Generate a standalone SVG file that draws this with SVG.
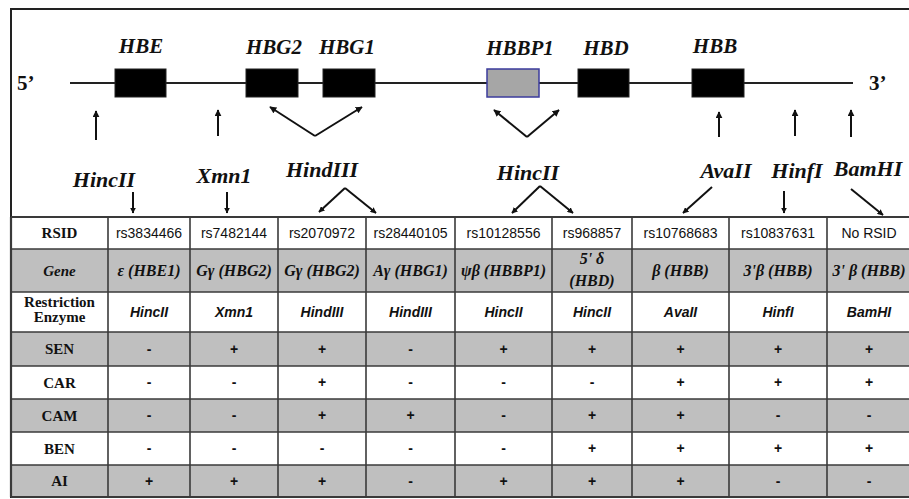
<svg xmlns="http://www.w3.org/2000/svg" width="909" height="499" viewBox="0 0 909 499">
  <defs>
    <marker id="head" viewBox="0 0 10 10" refX="9" refY="5" markerWidth="7" markerHeight="7" markerUnits="userSpaceOnUse" orient="auto">
      <path d="M0,0 L10,5 L0,10 Z" fill="#111"/>
    </marker>
    <marker id="headS" viewBox="0 0 10 10" refX="9" refY="5" markerWidth="6" markerHeight="6" markerUnits="userSpaceOnUse" orient="auto">
      <path d="M0,0 L10,5 L0,10 Z" fill="#111"/>
    </marker>
  </defs>
  <style>
    .gene { fill: #000; stroke: #222; stroke-width: 1; }
    .pseudo { fill: #a6a6a6; stroke: #3b3b9c; stroke-width: 1.5; }
    .glabel { font-family: "Liberation Serif", serif; font-weight: bold; font-style: italic; font-size: 21px; fill: #111; text-anchor: middle; }
    .elabel { font-family: "Liberation Serif", serif; font-weight: bold; font-style: italic; font-size: 22px; fill: #111; text-anchor: middle; }
    .end { font-family: "Liberation Serif", serif; font-weight: bold; font-size: 21px; fill: #111; }
    .arr { stroke: #111; stroke-width: 2; fill: none; marker-end: url(#head); }
    .arrs { stroke: #111; stroke-width: 2; fill: none; marker-end: url(#headS); }
    .grid { stroke: #3a3a3a; stroke-width: 1.6; fill: none; }
    .shade { fill: #bfbfbf; }
    .hdr { font-family: "Liberation Serif", serif; font-weight: bold; font-size: 15px; fill: #111; text-anchor: middle; }
    .hdri { font-family: "Liberation Serif", serif; font-weight: bold; font-style: italic; font-size: 15px; fill: #111; text-anchor: middle; }
    .rs { font-family: "Liberation Sans", sans-serif; font-size: 14px; fill: #111; text-anchor: middle; }
    .gn { font-family: "Liberation Serif", serif; font-weight: bold; font-style: italic; font-size: 16px; fill: #111; text-anchor: middle; }
    .enz { font-family: "Liberation Sans", sans-serif; font-weight: bold; font-style: italic; font-size: 14px; fill: #111; text-anchor: middle; }
    .val { font-family: "Liberation Sans", sans-serif; font-weight: bold; font-size: 14px; fill: #111; text-anchor: middle; }
  </style>

  <!-- frame -->
  <rect x="11" y="9" width="902" height="488" fill="#fff" stroke="#222" stroke-width="2"/>

  <!-- chromosome backbone -->
  <g id="locus">
    <line x1="70" y1="83" x2="853" y2="83" stroke="#222" stroke-width="2"/>
    <text class="end" x="17" y="90">5’</text>
    <text class="end" x="869" y="90">3’</text>
  </g>

  <!-- genes -->
  <g id="HBE"><rect class="gene" x="115" y="69" width="51" height="28"/><text class="glabel" x="141" y="53">HBE</text></g>
  <g id="HBG2"><rect class="gene" x="246" y="69" width="52" height="28"/><text class="glabel" x="274" y="54">HBG2</text></g>
  <g id="HBG1"><rect class="gene" x="323" y="69" width="52" height="28"/><text class="glabel" x="347" y="54">HBG1</text></g>
  <g id="HBBP1"><rect class="pseudo" x="487" y="69" width="52" height="28"/><text class="glabel" x="520" y="55">HBBP1</text></g>
  <g id="HBD"><rect class="gene" x="578" y="69" width="51" height="28"/><text class="glabel" x="606" y="55">HBD</text></g>
  <g id="HBB"><rect class="gene" x="692" y="69" width="52" height="28"/><text class="glabel" x="715" y="53">HBB</text></g>

  <!-- restriction enzyme labels -->
  <g id="enzymes">
    <text class="elabel" x="104" y="187">HincII</text>
    <text class="elabel" x="224" y="183">Xmn1</text>
    <text class="elabel" x="322" y="177">HindIII</text>
    <text class="elabel" x="528" y="180">HincII</text>
    <text class="elabel" x="726" y="178">AvaII</text>
    <text class="elabel" x="797" y="178">HinfI</text>
    <text class="elabel" x="868" y="176">BamHI</text>
  </g>

  <!-- connectors -->
  <g id="connectors">
    <!-- up arrows to the locus -->
    <line class="arr" x1="96" y1="140" x2="96" y2="111"/>
    <line class="arr" x1="218" y1="136" x2="218" y2="110"/>
    <line class="arr" x1="315" y1="136" x2="270" y2="107"/>
    <line class="arr" x1="315" y1="136" x2="362" y2="107"/>
    <line class="arr" x1="527" y1="137" x2="494" y2="110"/>
    <line class="arr" x1="527" y1="137" x2="559" y2="110"/>
    <line class="arr" x1="719" y1="137" x2="719" y2="112"/>
    <line class="arr" x1="795" y1="136" x2="795" y2="110"/>
    <line class="arr" x1="851" y1="137" x2="851" y2="110"/>
    <!-- down arrows to the table -->
    <line class="arrs" x1="133" y1="192" x2="133" y2="213"/>
    <line class="arrs" x1="227" y1="192" x2="227" y2="213"/>
    <line class="arrs" x1="345" y1="188" x2="319" y2="212"/>
    <line class="arrs" x1="345" y1="188" x2="376" y2="213"/>
    <line class="arrs" x1="540" y1="186" x2="512" y2="213"/>
    <line class="arrs" x1="540" y1="186" x2="573" y2="213"/>
    <line class="arrs" x1="712" y1="187" x2="683" y2="213"/>
    <line class="arrs" x1="784" y1="191" x2="784" y2="213"/>
    <line class="arrs" x1="851" y1="189" x2="883" y2="215"/>
  </g>

  <!-- SNP table -->
  <g id="table">
    <rect class="shade" x="11" y="249" width="900" height="43"/>
    <rect class="shade" x="11" y="332" width="900" height="34"/>
    <rect class="shade" x="11" y="399" width="900" height="33"/>
    <rect class="shade" x="11" y="465" width="900" height="32"/>
    <g class="grid">
      <line x1="11" y1="217" x2="911" y2="217" stroke-width="2.2"/>
      <line x1="11" y1="249" x2="911" y2="249"/>
      <line x1="11" y1="292" x2="911" y2="292"/>
      <line x1="11" y1="332" x2="911" y2="332"/>
      <line x1="11" y1="366" x2="911" y2="366"/>
      <line x1="11" y1="399" x2="911" y2="399"/>
      <line x1="11" y1="432" x2="911" y2="432"/>
      <line x1="11" y1="465" x2="911" y2="465"/>
      <line x1="11" y1="497" x2="911" y2="497" stroke-width="2.2"/>
      <line x1="108" y1="217" x2="108" y2="497"/>
      <line x1="190" y1="217" x2="190" y2="497"/>
      <line x1="278" y1="217" x2="278" y2="497"/>
      <line x1="366" y1="217" x2="366" y2="497"/>
      <line x1="455" y1="217" x2="455" y2="497"/>
      <line x1="552" y1="217" x2="552" y2="497"/>
      <line x1="632" y1="217" x2="632" y2="497"/>
      <line x1="729" y1="217" x2="729" y2="497"/>
      <line x1="827" y1="217" x2="827" y2="497"/>
      <line x1="11" y1="217" x2="11" y2="497" stroke-width="2.2"/>
    </g>

    <!-- row headers -->
    <text class="hdr" x="59.5" y="238">RSID</text>
    <text class="hdri" x="59.5" y="276">Gene</text>
    <text class="hdr" x="59.5" y="307">Restriction</text>
    <text class="hdr" x="59.5" y="322">Enzyme</text>
    <text class="hdr" x="59.5" y="354">SEN</text>
    <text class="hdr" x="59.5" y="388">CAR</text>
    <text class="hdr" x="59.5" y="421">CAM</text>
    <text class="hdr" x="59.5" y="454">BEN</text>
    <text class="hdr" x="59.5" y="486">AI</text>

    <!-- RSID row -->
    <text class="rs" x="149" y="238">rs3834466</text>
    <text class="rs" x="234" y="238">rs7482144</text>
    <text class="rs" x="322" y="238">rs2070972</text>
    <text class="rs" x="410.5" y="238">rs28440105</text>
    <text class="rs" x="503.5" y="238">rs10128556</text>
    <text class="rs" x="592" y="238">rs968857</text>
    <text class="rs" x="680.5" y="238">rs10768683</text>
    <text class="rs" x="778" y="238">rs10837631</text>
    <text class="rs" x="869" y="238">No RSID</text>

    <!-- gene row -->
    <text class="gn" x="149" y="276">ε (HBE1)</text>
    <text class="gn" x="234" y="276">Gγ (HBG2)</text>
    <text class="gn" x="322" y="276">Gγ (HBG2)</text>
    <text class="gn" x="410.5" y="276">Aγ (HBG1)</text>
    <text class="gn" x="503.5" y="276">ψβ (HBBP1)</text>
    <text class="gn" x="592" y="264">5' δ</text>
    <text class="gn" x="592" y="286">(HBD)</text>
    <text class="gn" x="680.5" y="276">β (HBB)</text>
    <text class="gn" x="778" y="276">3'β (HBB)</text>
    <text class="gn" x="869" y="276">3' β (HBB)</text>

    <!-- enzyme row -->
    <text class="enz" x="149" y="317">HincII</text>
    <text class="enz" x="234" y="317">Xmn1</text>
    <text class="enz" x="322" y="317">HindIII</text>
    <text class="enz" x="410.5" y="317">HindIII</text>
    <text class="enz" x="503.5" y="317">HincII</text>
    <text class="enz" x="592" y="317">HincII</text>
    <text class="enz" x="680.5" y="317">AvaII</text>
    <text class="enz" x="778" y="317">HinfI</text>
    <text class="enz" x="869" y="317">BamHI</text>

    <!-- SEN -->
    <g class="val">
      <text x="149" y="354">-</text><text x="234" y="354">+</text><text x="322" y="354">+</text><text x="410.5" y="354">-</text><text x="503.5" y="354">+</text><text x="592" y="354">+</text><text x="680.5" y="354">+</text><text x="778" y="354">+</text><text x="869" y="354">+</text>
    </g>
    <!-- CAR -->
    <g class="val">
      <text x="149" y="387">-</text><text x="234" y="387">-</text><text x="322" y="387">+</text><text x="410.5" y="387">-</text><text x="503.5" y="387">-</text><text x="592" y="387">-</text><text x="680.5" y="387">+</text><text x="778" y="387">+</text><text x="869" y="387">+</text>
    </g>
    <!-- CAM -->
    <g class="val">
      <text x="149" y="420">-</text><text x="234" y="420">-</text><text x="322" y="420">+</text><text x="410.5" y="420">+</text><text x="503.5" y="420">-</text><text x="592" y="420">+</text><text x="680.5" y="420">+</text><text x="778" y="420">-</text><text x="869" y="420">-</text>
    </g>
    <!-- BEN -->
    <g class="val">
      <text x="149" y="453">-</text><text x="234" y="453">-</text><text x="322" y="453">-</text><text x="410.5" y="453">-</text><text x="503.5" y="453">-</text><text x="592" y="453">+</text><text x="680.5" y="453">+</text><text x="778" y="453">+</text><text x="869" y="453">+</text>
    </g>
    <!-- AI -->
    <g class="val">
      <text x="149" y="486">+</text><text x="234" y="486">+</text><text x="322" y="486">+</text><text x="410.5" y="486">-</text><text x="503.5" y="486">+</text><text x="592" y="486">+</text><text x="680.5" y="486">+</text><text x="778" y="486">-</text><text x="869" y="486">-</text>
    </g>
  </g>
</svg>
